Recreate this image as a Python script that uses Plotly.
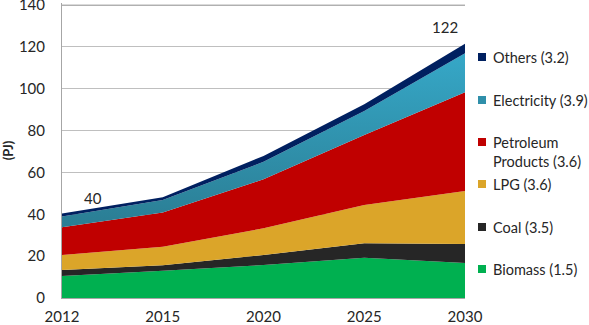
import plotly.graph_objects as go

years = ["2012", "2015", "2020", "2025", "2030"]
biomass = [10.5, 13.0, 15.8, 19.2, 16.7]
coal = [2.9, 2.6, 4.7, 7.0, 9.1]
lpg = [7.1, 8.9, 12.8, 18.2, 25.3]
petroleum = [13.3, 16.4, 23.4, 33.5, 47.3]
electricity = [5.1, 6.0, 8.4, 11.5, 18.6]
others = [1.5, 1.2, 2.8, 3.2, 4.5]

series_names = ["Biomass (1.5)", "Coal (3.5)", "LPG (3.6)",
                "Petroleum<br>Products (3.6)", "Electricity (3.9)", "Others (3.2)"]
series_values = [biomass, coal, lpg, petroleum, electricity, others]
series_colors = ["#00B050", "#262626", "#DBA529", "#C00000", "#2F8FAA", "#002060"]

total_label_years = ["2012", "2030"]
total_label_texts = ["40", "122"]

y_ticks = [0, 20, 40, 60, 80, 100, 120, 140]

FONT = "Lato"
W, H = 589, 325
L, R, T, B = 62, 124, 3, 27
pw, ph = W - L - R, H - T - B

fig = go.Figure()
for name, vals, col in zip(series_names, series_values, series_colors):
    kw = {}
    if name.startswith("Electricity"):
        kw["fillgradient"] = dict(type="vertical",
                                  colorscale=[[0, "#2A7B91"], [1, "#36A8C8"]],
                                  start=30, stop=118)
    fig.add_trace(go.Scatter(
        x=years, y=vals, name=name, mode="none", stackgroup="one",
        fillcolor=col, showlegend=False, hoverinfo="skip", **kw))

totals = [sum(v) for v in zip(*series_values)]
shifts = {"2012": (31, 15), "2030": (-20, 17)}
for yr, txt in zip(total_label_years, total_label_texts):
    i = years.index(yr)
    dx, dy = shifts[yr]
    fig.add_annotation(x=i, y=totals[i], xref="x", yref="y", text=txt,
                       showarrow=False, xshift=dx, yshift=dy,
                       font=dict(family=FONT, size=15, color="#262626"))

# top gridline (140)
fig.add_shape(type="line", xref="paper", yref="y", x0=0, x1=1,
              y0=y_ticks[-1], y1=y_ticks[-1], line=dict(color="#A6A6A6", width=1),
              layer="above")

# legend (manual, right side)
leg_y = [269, 227, 184, 142, 100, 57]
for name, col, py in zip(series_names, series_colors, leg_y):
    yp = (H - B - py) / ph
    x0 = (478 - L) / pw
    x1 = (486 - L) / pw
    fig.add_shape(type="rect", xref="paper", yref="paper",
                  x0=x0, x1=x1, y0=yp - 4 / ph, y1=yp + 4 / ph,
                  fillcolor=col, line=dict(width=0))
    lines = name.split("<br>")
    for k, ln in enumerate(lines):
        fig.add_annotation(x=(491 - L) / pw, y=yp - k * 19 / ph, xref="paper", yref="paper",
                           text=ln, showarrow=False, xanchor="left", yanchor="middle",
                           font=dict(family=FONT, size=14.5, color="#262626"))

fig.update_layout(
    width=W, height=H,
    margin=dict(l=L, r=R, t=T, b=B, pad=0),
    paper_bgcolor="white", plot_bgcolor="white",
    font=dict(family=FONT, size=15, color="#262626"),
    showlegend=False,
    xaxis=dict(type="category", range=[0, 4], showgrid=False, automargin=False,
               showline=True, linecolor="#A6A6A6", linewidth=1,
               ticks="", tickfont=dict(family=FONT, size=15, color="#262626"),
               ticklabelstandoff=5, ticklabeloverflow="allow", fixedrange=True),
    yaxis=dict(range=[0, 141], tickvals=y_ticks, showgrid=True, gridcolor="#BFBFBF",
               gridwidth=1, showline=True, linecolor="#A6A6A6", linewidth=1,
               automargin=False, ticklabeloverflow="allow",
               zeroline=False, ticks="", ticklabelstandoff=13,
               tickfont=dict(family=FONT, size=15, color="#262626"),
               title=dict(text="<b>(PJ)</b>", standoff=2,
                          font=dict(family=FONT, size=13, color="#262626")),
               fixedrange=True),
)

fig.write_html("out.html")
